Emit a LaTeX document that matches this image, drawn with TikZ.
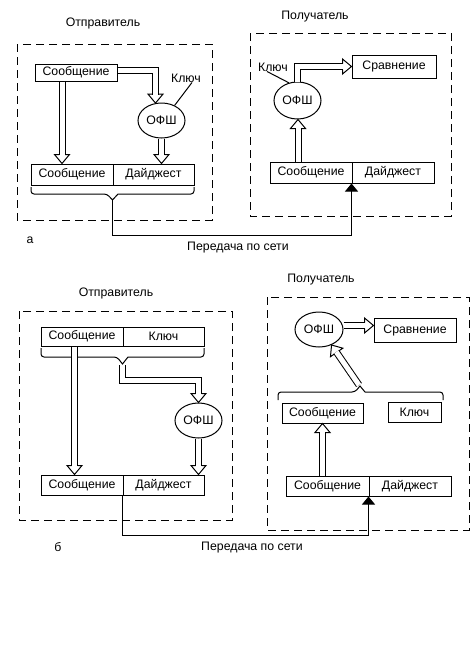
\documentclass[tikz,border=0pt]{standalone}
\usepackage{fontspec}
\setmainfont{Liberation Sans}
\usetikzlibrary{shapes.geometric,arrows.meta,decorations.markings,calc}
\begin{document}
\begin{tikzpicture}[x=1pt,y=-1pt,
  every node/.style={font=\fontsize{12.3}{14}\selectfont, inner sep=0pt},
  box/.style={draw, line width=1pt, minimum height=#1},
  box/.default=21,
  hash/.style={draw, ellipse, line width=1pt, minimum width=47, minimum height=35},
  dashbox/.style={draw, line width=1pt, dash pattern=on 8pt off 5pt},
  brc/.style={draw, line width=1pt},
  thin/.style={draw, line width=1pt},
  net/.style={draw, line width=1pt, -{Triangle[length=8pt,width=13pt]}},
  dbl/.style={draw, line width=1pt, double=white, double distance=5pt, shorten >=8.5pt,
    decoration={markings, mark=at position 1 with {
      \draw[line width=1pt, shorten >=0pt, shorten <=0pt, line join=miter]
        (-9pt,3pt) -- (-9pt,7.5pt) -- (0pt,0pt) -- (-9pt,-7.5pt) -- (-9pt,-3pt);}},
    postaction={decorate}}
]
\useasboundingbox (0,0) rectangle (474,664);

% ---------- part a, sender ----------
\draw[dashbox] (17,44) rectangle (212,220);
\node (sendA) at (103,23) {Отправитель};
\node[box=17, minimum width=82] (msgA) at (76,72.5) {Сообщение};
\node[hash] (hashA) at (161.5,120.5) {ОФШ};
\node (keyA) at (186,78) {Ключ};
\node[box, minimum width=82] (msgA2) at (72,174.5) {Сообщение};
\node[box, minimum width=81] (digA) at (153.5,174.5) {Дайджест};
\draw[thin] ($(keyA.south)+(6,0)$) -- (hashA.49);
\draw[dbl] ($(msgA.east)+(0,-2)$) -| ($(hashA.north)+(-6,0.6)$);
\draw[dbl] ([xshift=-14pt]msgA.south) -- ([xshift=-14pt]msgA.south |- msgA2.north);
\draw[dbl] (hashA.south) -- (hashA.south |- digA.north);
\draw[brc] (31,187) [rounded corners=3pt] -- (31,194) -- (107,194) [sharp corners] -- (112.5,200) -- (118,194) [rounded corners=3pt] -- (194,194) -- (194,187);
\coordinate (tA) at (112.5,200);

% ---------- part a, receiver ----------
\draw[dashbox] (250,33) rectangle (451,216);
\node (recvA) at (315,17) {Получатель};
\node[box=23, minimum width=84] (cmpA) at (394,66.5) {Сравнение};
\node[hash, minimum height=37] (rhashA) at (297.5,100.5) {ОФШ};
\node (rkeyA) at (273,67) {Ключ};
\node[box, minimum width=82] (rmsgA) at (311,172.5) {Сообщение};
\node[box, minimum width=82] (rdigA) at (393,172.5) {Дайджест};
\draw[thin] ($(rkeyA.south)+(-6,0)$) -- (rhashA.116);
\draw[dbl] (rhashA.north) |- (cmpA.west);
\draw[dbl] ([xshift=-13pt]rmsgA.north) -- ([xshift=-13pt]rmsgA.north |- rhashA.south);

\node (labA) at (30,240) {а};
\node (netA) at (238,248) {Передача по сети};
\draw[net] (tA) -- ++(0,35) -| (rdigA.south west);

% ---------- part b, sender ----------
\draw[dashbox] (19,311) rectangle (232,520);
\node (sendB) at (116,293) {Отправитель};
\node[box=19, minimum width=82] (msgB) at (82,336.5) {Сообщение};
\node[box=19, minimum width=81] (keyB) at (163.5,336.5) {Ключ};
\draw[brc] (41,348) [rounded corners=3pt] -- (41,357) -- (117,357) [sharp corners] -- (122.5,364) -- (128,357) [rounded corners=3pt] -- (204,357) -- (204,348);
\coordinate (tB) at (122.5,365);
\node[hash] (hashB) at (198.5,420.5) {ОФШ};
\node[box=20, minimum width=82] (msgB2) at (82,485) {Сообщение};
\node[box=20, minimum width=81] (digB) at (163.5,485) {Дайджест};
\draw[dbl] (tB) -- ++(0,15) -| (hashB.north);
\draw[dbl] ([xshift=-7.5pt]msgB.south) -- ([xshift=-7.5pt]msgB.south |- msgB2.north);
\draw[dbl] (hashB.south) -- (hashB.south |- digB.north);

% ---------- part b, receiver ----------
\draw[dashbox] (267,297) rectangle (469,530);
\node (recvB) at (321,280) {Получатель};
\node[hash, minimum width=48] (rhashB) at (319,329.5) {ОФШ};
\node[box=24, minimum width=82] (cmpB) at (415,330) {Сравнение};
\coordinate (hbE) at ($(rhashB.east)+(0,-4)$);
\draw[dbl] (hbE) -- (hbE -| cmpB.west);
\draw[brc] (278,400) [rounded corners=3pt] -- (278,392) -- (355,392) [sharp corners] -- (360,386) -- (365,392) [rounded corners=3pt] -- (443,392) -- (443,400);
\coordinate (tRB) at (359,385);
\draw[dbl] (tRB) -- (rhashB.-51);
\node[box=20, minimum width=81] (rmsgB2) at (322.5,413) {Сообщение};
\node[box=20, minimum width=53] (rkeyB) at (414.5,412) {Ключ};
\node[box=20, minimum width=83] (rmsgB) at (327.5,486) {Сообщение};
\node[box=20, minimum width=82] (rdigB) at (410,486) {Дайджест};
\draw[dbl] (rmsgB.north -| rmsgB2.south) -- (rmsgB2.south);

\node (labB) at (58,547) {б};
\node (netB) at (252,548) {Передача по сети};
\draw[net] (digB.south west) -- ++(0,40) -| (rdigB.south west);
\end{tikzpicture}
\end{document}
